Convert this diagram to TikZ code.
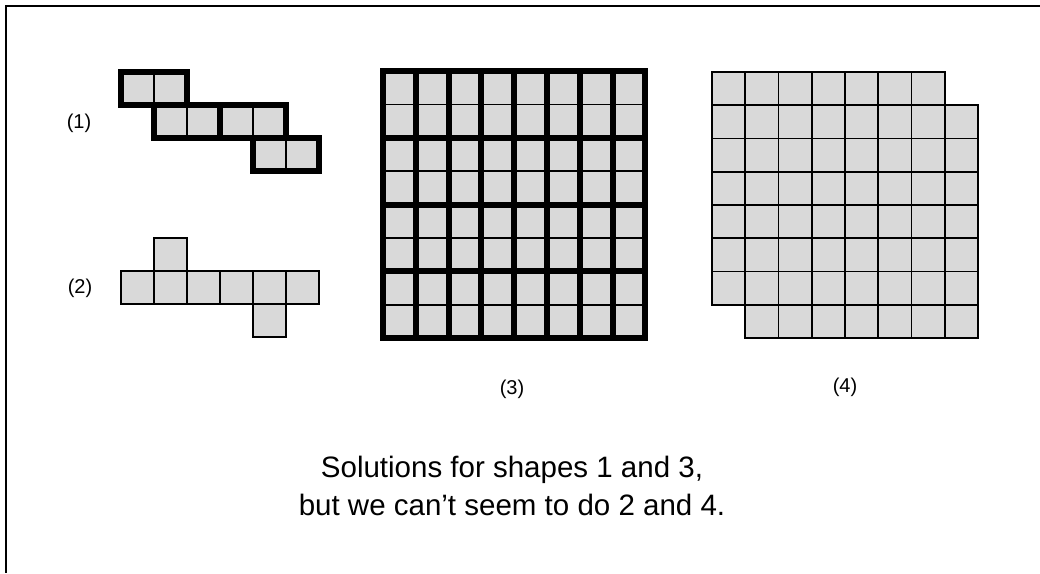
\documentclass[tikz,border=0pt]{standalone}
\usepackage{fontspec}
\setmainfont{Liberation Sans}
\begin{document}
\begin{tikzpicture}[x=1pt,y=-1pt,
  cellfill/.style={fill=black!15},
  thingrid/.style={line width=1.6pt},
  dom/.style={line width=6pt, line join=miter},
  lbl/.style={font=\fontsize{20}{24}\selectfont, inner sep=0pt},
  caption/.style={font=\fontsize{29.5}{38}\selectfont, align=center, inner sep=0pt}]
\useasboundingbox (0,0) rectangle (1040,573);
% frame (top and left edges only)
\draw[line width=1.8pt] (1040,6) -- (6,6) -- (6,573);
% ---- shape 1 ----
\foreach \c/\r in {0/0,1/0,1/1,2/1,3/1,4/1,4/2,5/2}
  \filldraw[cellfill, thingrid] ({121+33*\c},{72+33*\r}) rectangle ++(33,33);
\foreach \c/\r in {0/0,1/1,3/1,4/2}
  \draw[dom] ({121+33*\c},{72+33*\r}) rectangle ++(66,33);
% ---- shape 2 ----
\foreach \c/\r in {1/0,0/1,1/1,2/1,3/1,4/1,5/1,4/2}
  \filldraw[cellfill, line width=1.3pt] ({121+33*\c},{238+33*\r}) rectangle ++(33,33);
% ---- shape 3 ----
\foreach \c in {0,...,7}
  \foreach \r in {0,...,7}
    \filldraw[cellfill, thingrid] ({383+32.8*\c},{71+33.4*\r}) rectangle ++(32.8,33.4);
\foreach \c in {0,...,7}
  \foreach \r in {0,2,4,6}
    \draw[dom] ({383+32.8*\c},{71+33.4*\r}) rectangle ++(32.8,66.8);
% ---- shape 4 ----
\foreach \c in {0,...,6}
  \filldraw[cellfill, thingrid] ({712+33.25*\c},72) rectangle ++(33.25,33.25);
\foreach \c in {0,...,7}
  \foreach \r in {1,...,6}
    \filldraw[cellfill, thingrid] ({712+33.25*\c},{72+33.25*\r}) rectangle ++(33.25,33.25);
\foreach \c in {1,...,7}
  \filldraw[cellfill, thingrid] ({712+33.25*\c},{72+33.25*7}) rectangle ++(33.25,33.25);
% ---- labels ----
\node[lbl] (l1) at (79,123) {(1)};
\node[lbl] (l2) at (80,288) {(2)};
\node[lbl] (l3) at (512,389) {(3)};
\node[lbl] (l4) at (845,387) {(4)};
\node[caption] (cap) at (512,486) {Solutions for shapes 1 and 3,\\but we can’t seem to do 2 and 4.};
\end{tikzpicture}
\end{document}
